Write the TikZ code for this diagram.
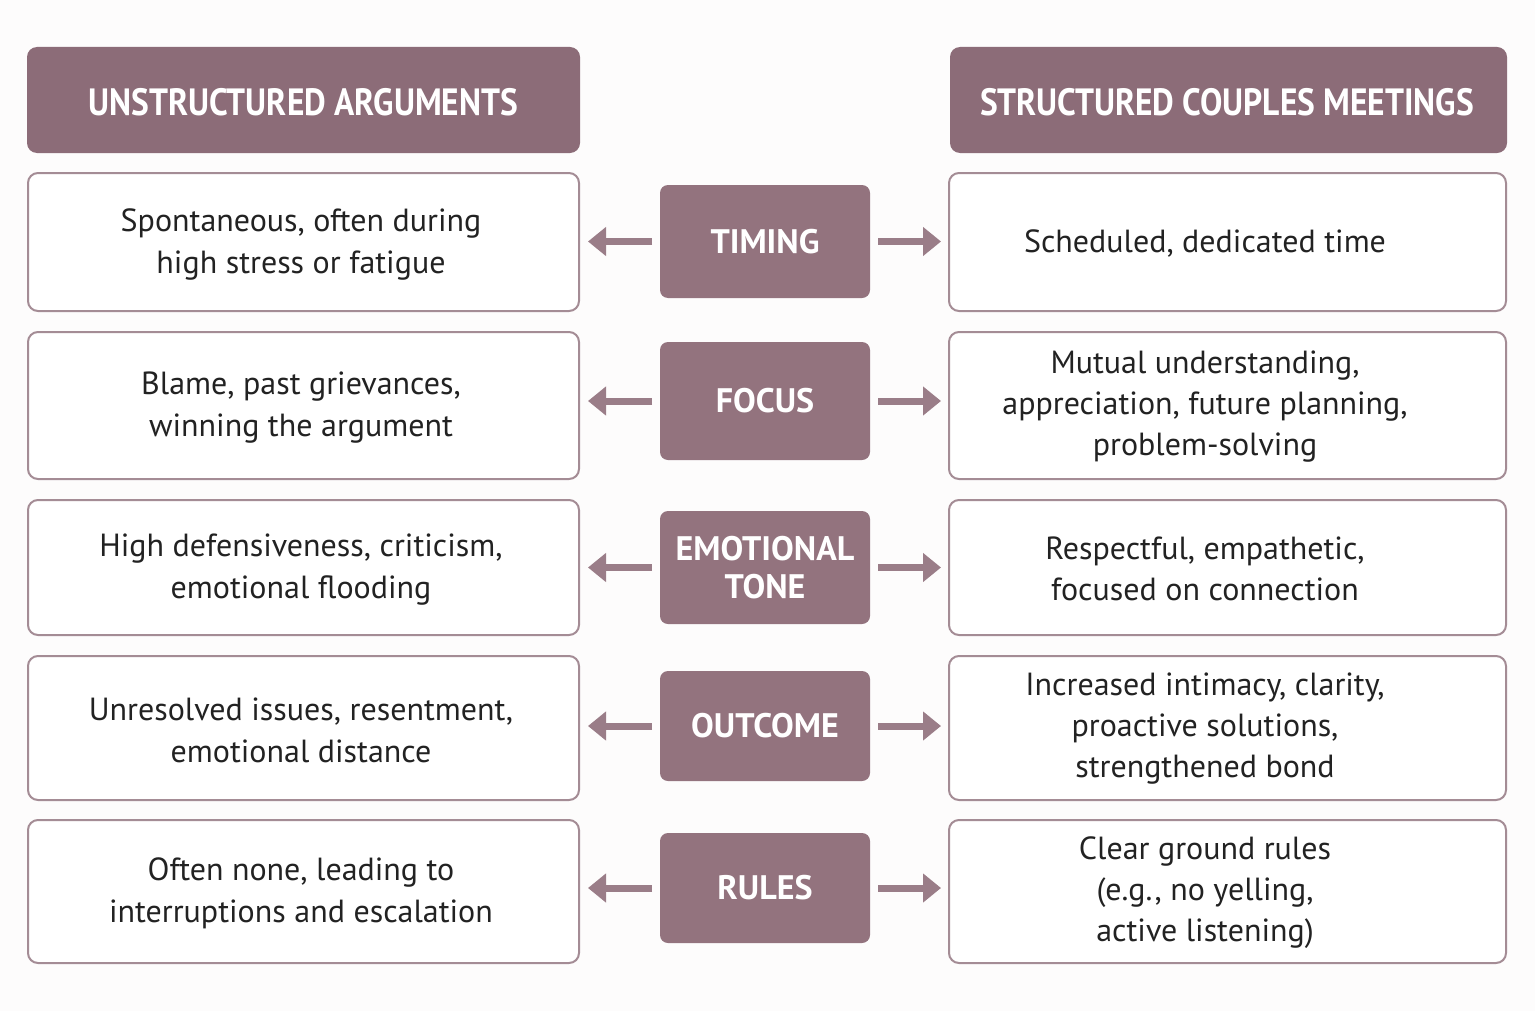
\documentclass[tikz,border=0pt]{standalone}
\usepackage{fontspec}
\setmainfont{PT Sans}
\usetikzlibrary{arrows.meta}
\definecolor{hdr}{HTML}{8C6C78}
\definecolor{mid}{HTML}{93737E}
\definecolor{brd}{HTML}{A48C95}
\definecolor{arr}{HTML}{9A7D88}
\definecolor{bg}{HTML}{FDFCFC}
\definecolor{txt}{HTML}{222222}
\begin{document}
\begin{tikzpicture}[x=0.5pt,y=-0.5pt,
 hdr/.style={fill=hdr,draw=none,rounded corners=5pt},
 mid/.style={fill=mid,draw=none,rounded corners=4pt},
 box/.style={draw=brd,line width=1pt,fill=white,rounded corners=5pt},
 ar/.style={draw=arr,line width=3.5pt,-{Triangle[length=9pt,width=14pt]}}]
\useasboundingbox[fill=bg] (0,0) rectangle (1535,1011);
\path[hdr] (27,47) rectangle (580,153);
\node[text=white,font=\fontsize{19}{22}\selectfont\bfseries] (hl) at (303.5,102) {\scalebox{0.88}[1]{UNSTRUCTURED ARGUMENTS}};
\path[hdr] (950,47) rectangle (1507,153);
\node[text=white,font=\fontsize{19}{22}\selectfont\bfseries] (hr) at (1227,102) {\scalebox{0.88}[1]{STRUCTURED COUPLES MEETINGS}};
\foreach \n/\ya/\yb/\ca/\cb/\lab/\lt/\rt in {
 1/173/311/185/298/TIMING/{Spontaneous, often during\\high stress or fatigue}/{Scheduled, dedicated time},
 2/332/479/342/460/FOCUS/{Blame, past grievances,\\winning the argument}/{Mutual understanding,\\appreciation, future planning,\\problem-solving},
 3/500/635/511/624/{EMOTIONAL\\TONE}/{High defensiveness, criticism,\\emotional flooding}/{Respectful, empathetic,\\focused on connection},
 4/656/800/671/781/OUTCOME/{Unresolved issues, resentment,\\emotional distance}/{Increased intimacy, clarity,\\proactive solutions,\\strengthened bond},
 5/820/963/833/943/RULES/{Often none, leading to\\interruptions and escalation}/{Clear ground rules\\(e.g., no yelling,\\active listening)}}{
 \path[box] (28,\ya) rectangle (579,\yb);
 \path[box] (949,\ya) rectangle (1506,\yb);
 \path[mid] (660,\ca) rectangle (870,\cb);
 \node[align=center,text=txt,font=\fontsize{16}{21}\selectfont] (l\n) at (301,{(\ya+\yb)/2+2}) {\lt};
 \node[align=center,text=txt,font=\fontsize{16}{20.5}\selectfont] (r\n) at (1205,{(\ya+\yb)/2+1}) {\rt};
 \node[align=center,text=white,font=\fontsize{17}{19}\selectfont\bfseries] (c\n) at (765,{(\ca+\cb)/2}) {\lab};
 \coordinate (la\n) at (652,{(\ca+\cb)/2});
 \coordinate (lb\n) at (588,{(\ca+\cb)/2});
 \coordinate (ra\n) at (878,{(\ca+\cb)/2});
 \coordinate (rb\n) at (941,{(\ca+\cb)/2});
 \draw[ar] (la\n) -- (lb\n);
 \draw[ar] (ra\n) -- (rb\n);
}
\end{tikzpicture}
\end{document}
